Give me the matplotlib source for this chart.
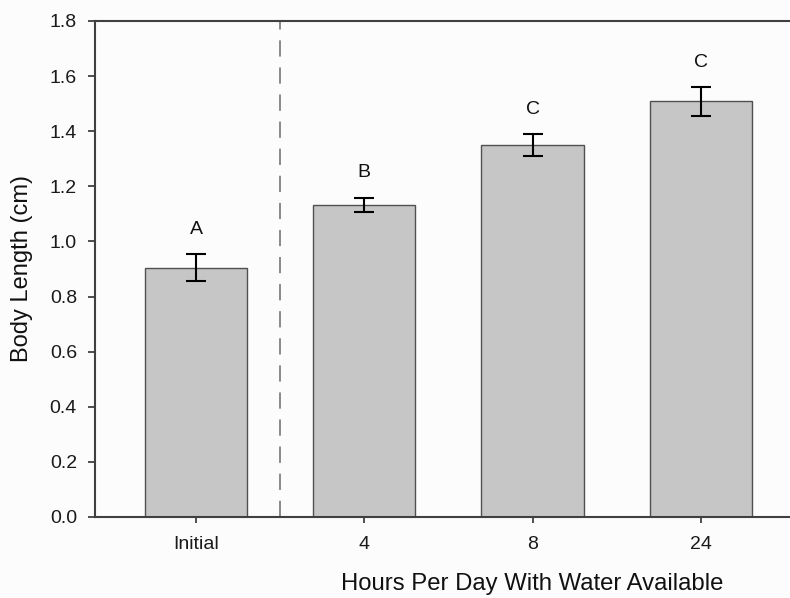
import matplotlib.pyplot as plt

plt.rcParams['font.family'] = ['Liberation Sans', 'DejaVu Sans']

grupos = ["Initial", "4", "8", "24"]
longitud = [0.905, 1.132, 1.350, 1.508]
error = [0.048, 0.027, 0.039, 0.053]
letras = ["A", "B", "C", "C"]

posiciones = list(range(len(grupos)))

figura = plt.figure(figsize=(7.9, 5.98), dpi=100, facecolor="#fcfcfc")
ejes = figura.add_axes([0.1203, 0.1355, 0.8797, 0.8294])
ejes.set_facecolor("#fcfcfc")

ejes.bar(posiciones, longitud, width=0.607, color="#c6c6c6",
         edgecolor="#505050", linewidth=1.0, zorder=2)
ejes.errorbar(posiciones, longitud, yerr=error, fmt="none", ecolor="black",
              elinewidth=1.5, capsize=7, capthick=1.5, zorder=3)

for x, y, e, letra in zip(posiciones, longitud, error, letras):
    ejes.text(x, y + e + 0.09, letra, ha="center", va="center",
              fontsize=14, color="#111111")

# separa el grupo inicial de los tratamientos
ejes.axvline(0.5, color="#808080", linewidth=1.3, linestyle=(0, (9, 6)), zorder=1)

ejes.set_xlim(-0.6, 3.53)
ejes.set_ylim(0, 1.8)
ejes.set_yticks([0.0, 0.2, 0.4, 0.6, 0.8, 1.0, 1.2, 1.4, 1.6, 1.8])
ejes.set_yticklabels(["0.0", "0.2", "0.4", "0.6", "0.8", "1.0", "1.2", "1.4", "1.6", "1.8"])
ejes.set_xticks(posiciones)
ejes.set_xticklabels(grupos)
ejes.tick_params(axis="y", direction="out", length=5, width=1.3, pad=8,
                 colors="#404040", labelcolor="#1a1a1a", labelsize=14)
ejes.tick_params(axis="x", direction="out", length=4, width=1.3, pad=10,
                 colors="#404040", labelcolor="#1a1a1a", labelsize=14)

for lado in ["left", "top", "bottom"]:
    ejes.spines[lado].set_color("#404040")
    ejes.spines[lado].set_linewidth(1.5)
ejes.spines["right"].set_visible(False)

ejes.set_ylabel("Body Length (cm)", fontsize=17, color="#111111", labelpad=12)
ejes.text(2, -0.245, "Hours Per Day With Water Available", ha="center",
          va="center", fontsize=17.2, color="#111111",
          transform=ejes.transData)

figura.savefig("out.png", dpi=100, facecolor=figura.get_facecolor())
